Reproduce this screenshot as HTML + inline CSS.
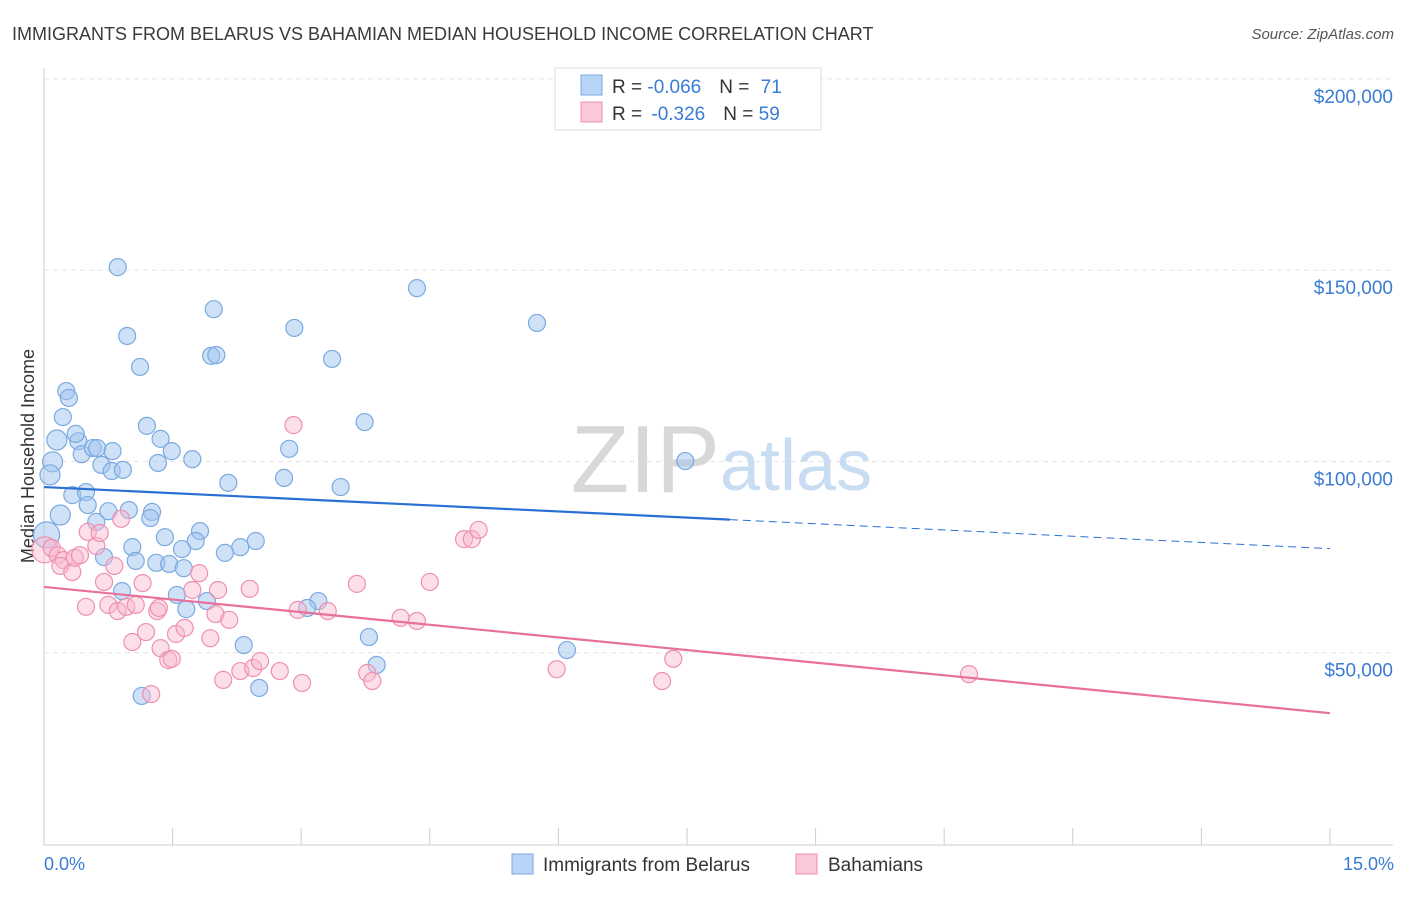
<!DOCTYPE html>
<html><head><meta charset="utf-8"><style>
body{margin:0;background:#fff;font-family:"Liberation Sans",sans-serif;}
svg text{font-family:"Liberation Sans",sans-serif;}
</style></head><body>
<svg width="1406" height="892" xmlns="http://www.w3.org/2000/svg">
<text x="12" y="40" font-size="18" fill="#3a3a3a">IMMIGRANTS FROM BELARUS VS BAHAMIAN MEDIAN HOUSEHOLD INCOME CORRELATION CHART</text>
<text x="1394" y="39" font-size="15" fill="#555" font-style="italic" text-anchor="end">Source: ZipAtlas.com</text>
<g id="grid"></g>
<text x="720" y="492" font-size="96" fill="#d8d8d8" text-anchor="end" font-family="Liberation Serif">ZIP</text>
<text x="720" y="490" font-size="72" fill="#c8dcf2">atlas</text>
<text transform="translate(34,456) rotate(-90)" font-size="18" fill="#333" text-anchor="middle">Median Household Income</text>
<g id="pts"></g>
<g id="lines"></g>
<g>
<rect x="555" y="68" width="266" height="62" fill="#fff" stroke="#ddd"/>
<rect x="581" y="75" width="21" height="20" fill="#b8d4f6" stroke="#7aaae0"/>
<rect x="581" y="102" width="21" height="20" fill="#fac8d8" stroke="#ee90b0"/>
<text x="612" y="93" font-size="19" fill="#333">R = <tspan fill="#3a7bd5">-0.066</tspan><tspan dx="18">N = </tspan><tspan dx="6" fill="#3a7bd5">71</tspan></text>
<text x="612" y="120" font-size="19" fill="#333">R = <tspan dx="4" fill="#3a7bd5">-0.326</tspan><tspan dx="18">N = </tspan><tspan fill="#3a7bd5">59</tspan></text>
</g>
<g>
<rect x="512" y="854" width="21" height="20" fill="#b8d4f6" stroke="#7aaae0"/>
<text x="543" y="871" font-size="19" fill="#333">Immigrants from Belarus</text>
<rect x="796" y="854" width="21" height="20" fill="#fac8d8" stroke="#ee90b0"/>
<text x="828" y="871" font-size="19" fill="#333">Bahamians</text>
</g>
<text x="44" y="870" font-size="18" fill="#3a7bd5">0.0%</text>
<text x="1394" y="870" font-size="18" fill="#3a7bd5" text-anchor="end">15.0%</text>
</svg>
<script>
const yTicks=[50000,100000,150000,200000];
const yTickLabels=["$50,000","$100,000","$150,000","$200,000"];
const xTicks=[0,1.5,3,4.5,6,7.5,9,10.5,12,13.5,15];
const blueX=[.86,.97,1.12,1.98,1.95,2.01,2.92,4.35,5.75,3.36,3.74,.26,.29,.22,.15,.10,.07,.03,.19,.33,.49,.40,.37,.44,.57,.62,.80,.67,.79,.92,1.20,1.36,1.49,1.33,1.73,2.15,2.80,2.86,3.46,7.48,.51,.61,.75,.99,1.26,1.24,1.41,1.82,1.77,2.47,2.29,2.11,1.61,1.03,.70,1.07,1.31,1.46,1.63,.91,1.55,1.90,1.66,3.20,3.07,3.79,2.33,6.10,3.88,2.51,1.14];
const blueY=[150.8,132.8,124.7,139.8,127.6,127.8,134.9,145.3,136.2,126.8,110.3,118.4,116.6,111.6,105.6,99.9,96.5,80.8,86,91.2,92,105.3,107.2,101.9,103.5,103.5,102.7,99.1,97.5,97.8,109.3,105.9,102.7,99.6,100.6,94.4,95.7,103.3,93.3,100.1,88.6,84.2,87,87.3,86.8,85.2,80.2,81.8,79.2,79.2,77.6,76.1,77.1,77.6,75,74,73.5,73.2,72.1,66.1,65.1,63.5,61.4,63.5,61.7,54.1,52,50.7,46.8,40.8,38.7];
const pinkX=[.01,.09,.16,.23,.19,.33,.36,.42,.51,.61,.65,.90,.70,.82,.49,.75,.86,.96,1.07,1.15,1.03,1.19,1.32,1.34,1.36,1.45,1.49,1.54,1.64,1.73,1.81,1.94,2.00,2.03,2.16,2.40,2.09,2.29,2.44,2.52,2.75,2.91,2.96,3.31,3.01,3.65,3.77,3.83,4.16,4.35,4.50,4.90,4.99,5.07,5.98,7.34,7.21,10.79,1.25];
const pinkY=[76.9,77.4,75.5,74.2,72.7,71.1,74.8,75.5,81.6,77.9,81.3,85,68.5,72.7,62,62.5,60.9,62,62.5,68.2,52.8,55.4,60.9,61.7,51.2,48.1,48.4,54.9,56.5,66.4,70.8,53.8,60.1,66.4,58.6,66.7,42.9,45.2,46,47.8,45.2,109.5,61.2,60.9,42.1,68,44.7,42.6,59.1,58.3,68.5,79.7,79.7,82.1,45.7,48.4,42.6,44.4,39.2];
const blueTrend=[[0,93.3],[8,84.8],[15,77.2]];
const pinkTrend=[[0,67.2],[15,34.2]];
const NS="http://www.w3.org/2000/svg";
const X=v=>44+v*85.73, Y=k=>844-k*1000/261.4;
function mk(t,a,p){const e=document.createElementNS(NS,t);for(const k in a)e.setAttribute(k,a[k]);p.appendChild(e);return e;}
const g=document.getElementById('grid');
mk('line',{x1:44,y1:68,x2:44,y2:845,stroke:'#ccc'},g);
mk('line',{x1:44,y1:845,x2:1393,y2:845,stroke:'#ccc'},g);
mk('line',{x1:44,y1:79,x2:1393,y2:79,stroke:'#e4e4e4','stroke-dasharray':'5,4'},g);
yTicks.forEach((t,i)=>{const y=Y(t/1000);
const l=mk('line',{x1:44,y1:y,x2:1393,y2:y,stroke:'#e4e4e4','stroke-dasharray':'5,4'},g);


const tx=mk('text',{x:1393,y:y+24,'font-size':19,fill:'#3a7bd5','text-anchor':'end'},g);tx.textContent=yTickLabels[i];

});
xTicks.forEach(t=>{const l=mk('line',{x1:X(t),y1:828,x2:X(t),y2:845,stroke:'#ccc'},g);

});
const p=document.getElementById('pts');
blueX.forEach((x,i)=>{const c=mk('circle',{cx:X(x),cy:Y(blueY[i]),r:x<0.05?13:(x<0.2?10:8.5),fill:'rgba(160,196,240,0.5)',stroke:'#7aaae0','stroke-width':1.2},p);

});
pinkX.forEach((x,i)=>{const c=mk('circle',{cx:X(x),cy:Y(pinkY[i]),r:x<0.05?13:8.5,fill:'rgba(248,184,206,0.45)',stroke:'#ee90b0','stroke-width':1.2},p);

});
const L=document.getElementById('lines');
let b=mk('line',{x1:X(blueTrend[0][0]),y1:Y(blueTrend[0][1]),x2:X(blueTrend[1][0]),y2:Y(blueTrend[1][1]),stroke:'#2a6fd4','stroke-width':2.2},L);


b=mk('line',{x1:X(blueTrend[1][0]),y1:Y(blueTrend[1][1]),x2:X(blueTrend[2][0]),y2:Y(blueTrend[2][1]),stroke:'#2a6fd4','stroke-width':1,'stroke-dasharray':'8,5'},L);


b=mk('line',{x1:X(pinkTrend[0][0]),y1:Y(pinkTrend[0][1]),x2:X(pinkTrend[1][0]),y2:Y(pinkTrend[1][1]),stroke:'#e8709a','stroke-width':2.2},L);


</script>
</body></html>
